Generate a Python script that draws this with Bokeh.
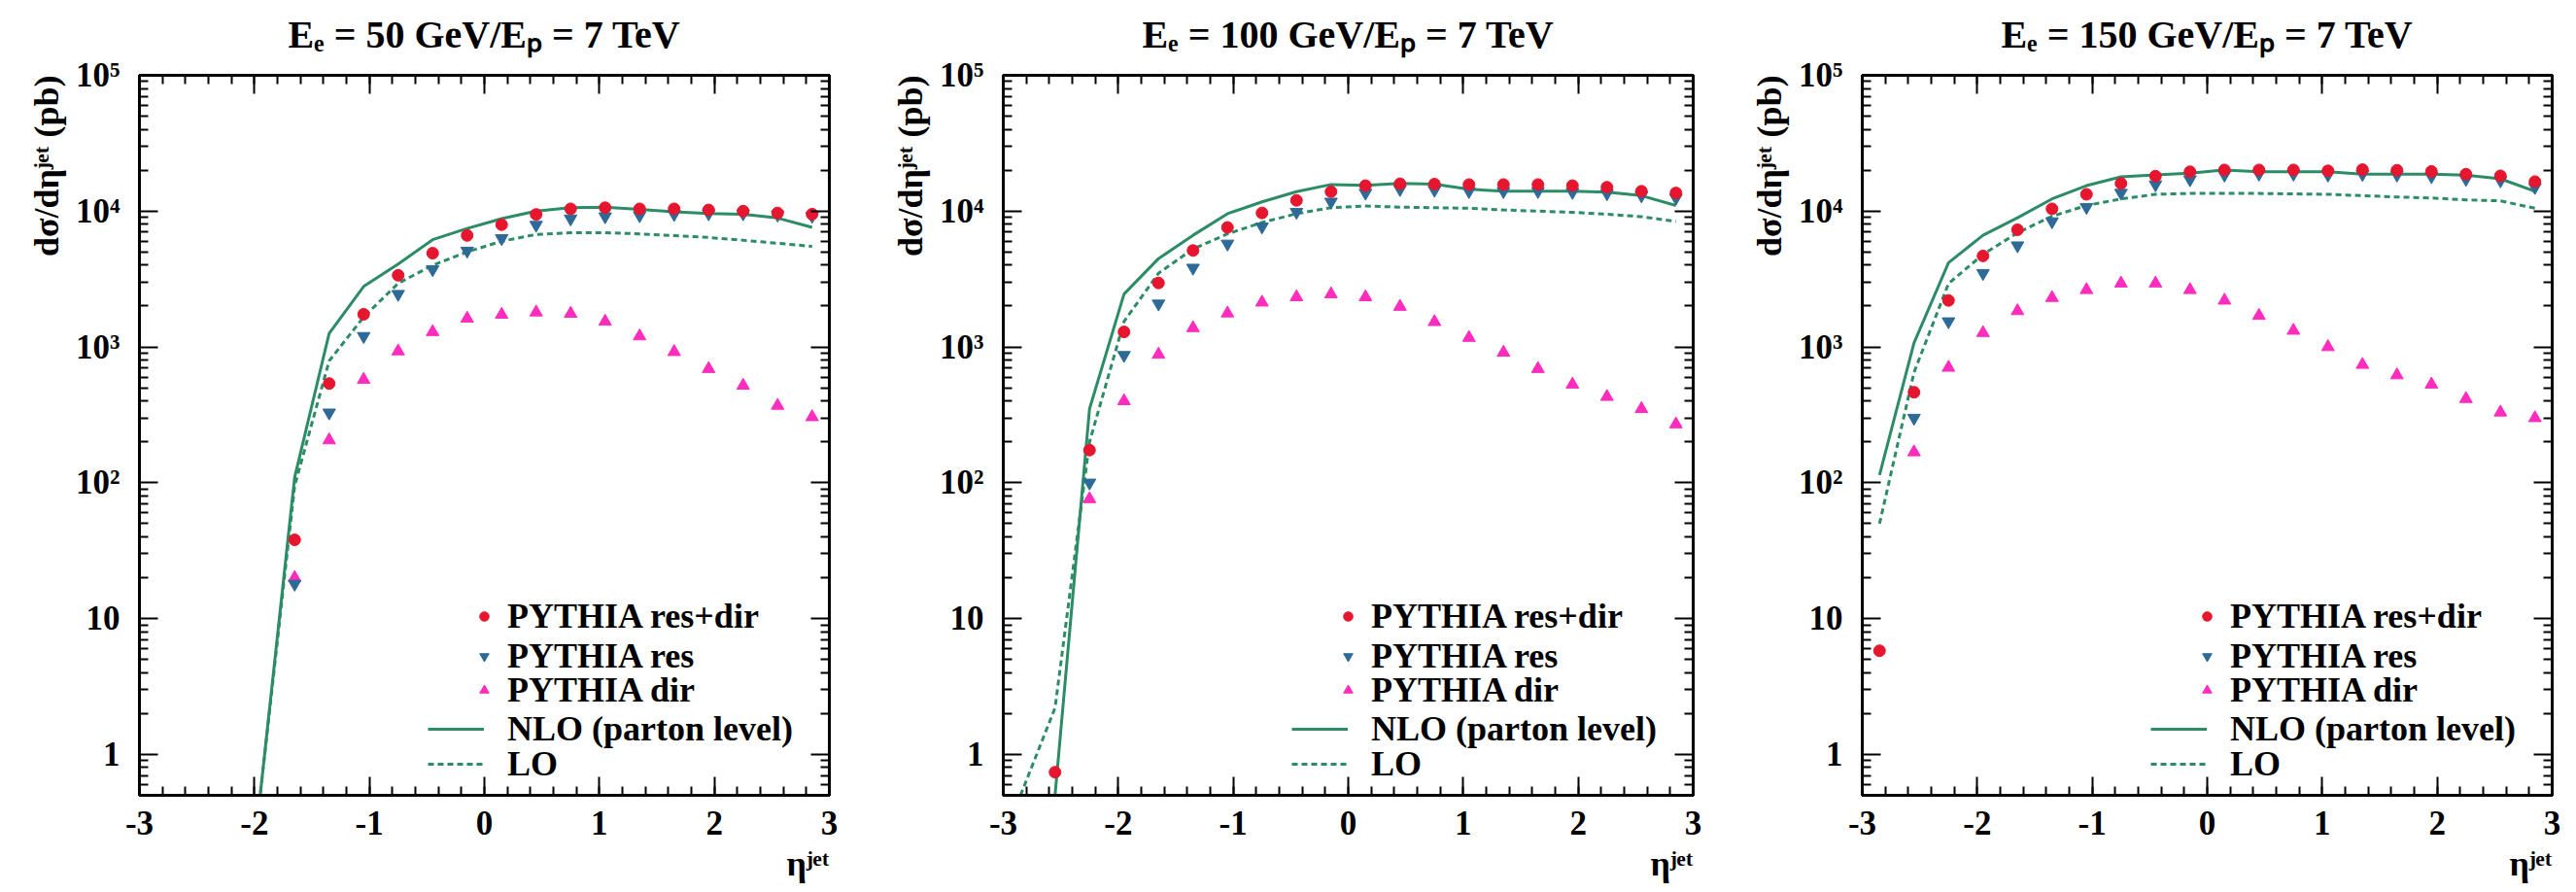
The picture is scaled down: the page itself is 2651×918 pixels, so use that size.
import math
from bokeh.plotting import figure
from bokeh.layouts import row
from bokeh.models import (Range1d, LinearAxis, LogAxis, FixedTicker, Legend, LegendItem, Title)
from bokeh.embed import file_html
from bokeh.resources import INLINE

NaN = float("nan")

# bin centres in eta^jet
eta = [-2.85, -2.55, -2.25, -1.95, -1.65, -1.35, -1.05, -0.75, -0.45, -0.15,
       0.15, 0.45, 0.75, 1.05, 1.35, 1.65, 1.95, 2.25, 2.55, 2.85]

titles = ["Eₑ = 50 GeV/Eₚ = 7 TeV", "Eₑ = 100 GeV/Eₚ = 7 TeV", "Eₑ = 150 GeV/Eₚ = 7 TeV"]

# ---- Ee = 50 GeV ----
resdir_50 = [NaN, NaN, NaN, NaN, 38, 538, 1740, 3370, 4900, 6620,
             7950, 9460, 10400, 10600, 10400, 10400, 10200, 10000, 9700, 9500]
res_50 = [NaN, NaN, NaN, NaN, 18, 328, 1200, 2450, 3720, 5100,
          6300, 7900, 8800, 9130, 9300, 9500, 9600, 9600, 9400, 9200]
dir_50 = [NaN, NaN, NaN, NaN, 20, 206, 575, 930, 1290, 1620,
          1730, 1800, 1760, 1540, 1200, 920, 690, 520, 370, 305]
nlo_50 = [0.5, 0.5, 0.5, 0.5, 110, 1260, 2790, 4080, 6160, 7450,
          8800, 10000, 10600, 10700, 10300, 9900, 9600, 9500, 8900, 7600]
lo_50 = [0.5, 0.5, 0.5, 0.5, 95, 790, 1660, 2940, 3990, 5010,
         6000, 6730, 6940, 6940, 6800, 6600, 6400, 6100, 5800, 5500]

# ---- Ee = 100 GeV ----
resdir_100 = [NaN, 0.74, 174, 1290, 2960, 5130, 7580, 9700, 12000, 13900,
              15400, 15900, 15800, 15700, 15700, 15700, 15400, 15000, 14000, 13600]
res_100 = [NaN, NaN, 100, 870, 2080, 3820, 5750, 7680, 9850, 11700,
           13600, 14500, 14300, 14000, 14000, 14000, 13800, 13500, 13000, 12500]
dir_100 = [NaN, NaN, 76, 400, 880, 1380, 1770, 2130, 2330, 2450,
           2330, 1980, 1530, 1170, 910, 690, 530, 430, 350, 270]
nlo_100 = [0.5, 0.5, 350, 2450, 4470, 6640, 9570, 11700, 13900, 15700,
           15500, 16000, 15800, 14500, 14000, 14000, 14000, 13800, 13000, 11000]
lo_100 = [0.5, 2.2, 200, 1540, 3490, 5260, 6800, 8250, 9570, 10600,
          10900, 10700, 10600, 10500, 10200, 10000, 9800, 9500, 9100, 8400]

# ---- Ee = 150 GeV ----
resdir_150 = [5.8, 464, 2200, 4680, 7290, 10400, 13300, 16000, 18100, 19500,
              20100, 20100, 20100, 19800, 20200, 20000, 19600, 18700, 18200, 16500]
res_150 = [NaN, 300, 1540, 3490, 5580, 8390, 10700, 13600, 15700, 17100,
           18500, 18800, 18800, 18500, 18700, 18500, 18000, 17200, 16800, 15000]
dir_150 = [NaN, 168, 705, 1270, 1840, 2300, 2630, 2940, 2940, 2630,
           2200, 1700, 1320, 1000, 740, 620, 530, 415, 330, 300]
nlo_150 = [114, 1070, 4170, 6640, 8930, 12300, 15400, 17900, 18500, 19000,
           20100, 19500, 19500, 19500, 18700, 18700, 18700, 18400, 17300, 14000]
lo_150 = [50, 650, 2930, 4800, 6930, 9170, 11000, 12300, 13300, 13500,
          13500, 13500, 13400, 13300, 13000, 12700, 12500, 12100, 11900, 10500]

x_major = [-3, -2, -1, 0, 1, 2, 3]
y_major = [1, 10, 100, 1000, 10000, 100000]
y_tick_labels = ["1", "10", "10²", "10³", "10⁴", "10⁵"]
legend_labels = ["PYTHIA res+dir", "PYTHIA res", "PYTHIA dir", "NLO (parton level)", "LO"]
y_title = "dσ/dηʲᵉᵗ (pb)"
x_title = "ηʲᵉᵗ"

FONT = "Liberation Serif"
RED = "#e5162e"
BLUE = "#2d6a98"
MAGENTA = "#ff2cbe"
GREEN = "#2b8c66"

x_minor = [round(-3 + 0.2 * i, 2) for i in range(31)]
y_minor = [m * 10 ** k for k in range(-1, 5) for m in range(2, 10) if 0.5 <= m * 10 ** k <= 1e5]

# vertical offsets (px above the frame bottom) of the five legend rows
legend_rows = [163, 122, 87, 47, 11]


def style_axis(ax, labels=True, standoff=20):
    ax.axis_line_width = 3
    ax.axis_line_color = "black"
    ax.major_tick_in = 19
    ax.major_tick_out = 0
    ax.minor_tick_in = 9
    ax.minor_tick_out = 0
    ax.major_tick_line_width = 2
    ax.minor_tick_line_width = 2
    ax.major_tick_line_color = "black"
    ax.minor_tick_line_color = "black"
    ax.major_label_text_font = FONT
    ax.major_label_text_font_style = "bold"
    if labels:
        ax.major_label_text_font_size = "35px"
        ax.major_label_text_color = "black"
        ax.major_label_standoff = standoff
    else:
        ax.major_label_text_font_size = "2px"
        ax.major_label_text_alpha = 0
        ax.major_label_standoff = 0


def make_panel(title, resdir, res, dr, nlo, lo, width, left, right):
    p = figure(width=width, height=918,
               x_range=Range1d(-3, 3), y_range=Range1d(0.5, 1e5),
               y_axis_type="log", output_backend="svg", toolbar_location=None,
               min_border_left=left, min_border_right=right,
               min_border_top=77, min_border_bottom=100,
               background_fill_color="white", border_fill_color="white")
    p.xgrid.visible = False
    p.ygrid.visible = False
    p.outline_line_color = "black"
    p.outline_line_width = 3

    xt = FixedTicker(ticks=x_major, minor_ticks=x_minor)
    yt = FixedTicker(ticks=y_major, minor_ticks=y_minor)

    xb = p.xaxis[0]
    xb.ticker = xt
    xb.major_label_overrides = {v: str(v) for v in x_major}
    style_axis(xb, True, 16)

    yl = p.yaxis[0]
    yl.ticker = yt
    yl.major_label_overrides = dict(zip(y_major, y_tick_labels))
    style_axis(yl, True, 20)

    # top axis carries the panel title as its axis label
    xa = LinearAxis(ticker=xt)
    style_axis(xa, False)
    xa.axis_label = title
    xa.axis_label_text_font = FONT
    xa.axis_label_text_font_style = "bold"
    xa.axis_label_text_font_size = "40px"
    xa.axis_label_text_color = "black"
    xa.axis_label_standoff = 20
    p.add_layout(xa, "above")
    yr = LogAxis(ticker=yt)
    style_axis(yr, False)
    p.add_layout(yr, "right")

    r_nlo = p.line(eta, nlo, line_color=GREEN, line_width=3)
    r_lo = p.line(eta, lo, line_color=GREEN, line_width=3, line_dash="6 4")
    r_dir = p.scatter(eta, dr, marker="triangle", size=13, fill_color=MAGENTA, line_color=MAGENTA)
    r_res = p.scatter(eta, res, marker="inverted_triangle", size=13, fill_color=BLUE, line_color=BLUE)
    r_rd = p.scatter(eta, resdir, marker="circle", size=12, fill_color=RED, line_color=RED)

    common = dict(border_line_color=None, background_fill_alpha=0, padding=0, margin=0,
                  spacing=0, label_text_font=FONT, label_text_font_style="bold",
                  label_text_font_size="36px", label_text_color="black",
                  glyph_height=36, label_height=36, label_text_baseline="middle")
    entries = [(legend_labels[0], r_rd, 343, 24, 12),
               (legend_labels[1], r_res, 343, 24, 12),
               (legend_labels[2], r_dir, 343, 24, 12),
               (legend_labels[3], r_nlo, 297, 58, 24),
               (legend_labels[4], r_lo, 297, 58, 24)]
    for (lab, rend, lx, gw, ls), vy in zip(entries, legend_rows):
        p.add_layout(Legend(items=[LegendItem(label=lab, renderers=[rend])],
                            location=(lx, vy), glyph_width=gw, label_standoff=ls, **common))

    p.add_layout(Title(text=y_title, align="right", vertical_align="top",
                       text_font=FONT, text_font_style="bold",
                       text_font_size="36px", text_color="black", standoff=12),
                 "left")
    p.add_layout(Title(text=x_title, align="right", vertical_align="bottom",
                       text_font=FONT, text_font_style="bold",
                       text_font_size="36px", text_color="black", standoff=10),
                 "below")
    return p


p1 = make_panel(titles[0], resdir_50, res_50, dir_50, nlo_50, lo_50, 884, 143, 31)
p2 = make_panel(titles[1], resdir_100, res_100, dir_100, nlo_100, lo_100, 884, 148, 26)
p3 = make_panel(titles[2], resdir_150, res_150, dir_150, nlo_150, lo_150, 883, 148, 25)

layout = row(p1, p2, p3, spacing=0)
open("out.html", "w").write(file_html(layout, INLINE))
